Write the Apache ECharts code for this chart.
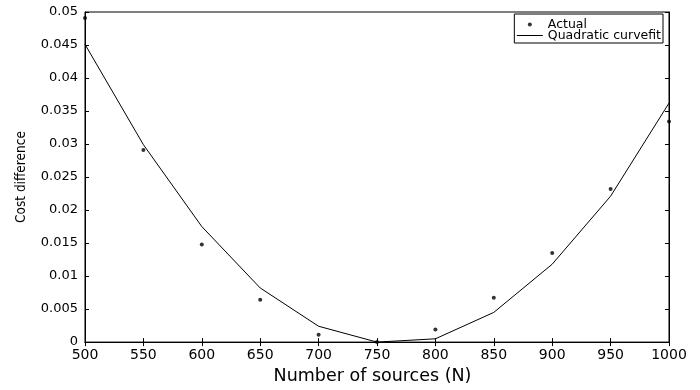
<!DOCTYPE html>
<html>
<head>
<meta charset="utf-8">
<script src="https://cdn.jsdelivr.net/npm/echarts@6/dist/echarts.min.js"></script>
<style>
  html, body { margin: 0; padding: 0; background: #fff; }
  #chart { width: 700px; height: 390px; }
</style>
</head>
<body>
<div id="chart"></div>
<script>
// Number of sources on the x axis
const sources = [500, 550, 600, 650, 700, 750, 800, 850, 900, 950, 1000];
// Measured cost difference for each source count
const actual = [0.0491, 0.0291, 0.0148, 0.0064, 0.0011, 0.0000, 0.0019, 0.0067, 0.0135, 0.0232, 0.0334];
// Quadratic curve fitted through the measurements
const quadraticFit = [0.0451, 0.0299, 0.0175, 0.0082, 0.0024, 0.0000, 0.0005, 0.0045, 0.0118, 0.0221, 0.0362];

const actualPoints = sources.map((n, i) => [n, actual[i]]);
const fitPoints = sources.map((n, i) => [n, quadraticFit[i]]);

const labelFont = 'DejaVu Sans';

const chart = echarts.init(document.getElementById('chart'), null, { renderer: 'canvas' });

const xBase = { type: 'value', min: 500, max: 1000, interval: 50 };
const yBase = { type: 'value', min: 0, max: 0.05, interval: 0.005 };

chart.setOption({
  animation: false,
  backgroundColor: '#fff',
  grid: {
    left: 85, right: 31, top: 12, bottom: 36,
    show: true, borderColor: '#000', borderWidth: 1, backgroundColor: 'transparent'
  },
  legend: {
    orient: 'vertical',
    right: 37,
    top: 14,
    padding: [4, 2, 1, 2],
    itemGap: -2,
    itemWidth: 26,
    itemHeight: 4,
    borderColor: '#000',
    borderWidth: 1,
    borderRadius: 0,
    backgroundColor: '#fff',
    textStyle: { fontFamily: labelFont, fontSize: 12.5, color: '#000' },
    data: [
      { name: 'Actual', icon: 'circle' },
      { name: 'Quadratic curvefit', itemStyle: { opacity: 0 }, lineStyle: { width: 1, color: '#000' } }
    ]
  },
  xAxis: [
    Object.assign({}, xBase, {
      position: 'bottom',
      name: 'Number of sources (N)',
      nameLocation: 'middle',
      nameGap: 20,
      nameTextStyle: { fontFamily: labelFont, fontSize: 17.5, color: '#000', padding: [0, 9, 0, 0] },
      axisLine: { show: true, onZero: false, lineStyle: { color: '#000', width: 1 } },
      axisTick: { show: true, inside: true, length: 4, lineStyle: { color: '#000' } },
      axisLabel: {
        show: true, margin: 6, fontFamily: labelFont, fontSize: 14, color: '#000',
        formatter: (v) => String(v)
      },
      splitLine: { show: false }
    }),
    Object.assign({}, xBase, {
      position: 'top',
      axisLine: { show: true, lineStyle: { color: '#000', width: 1 } },
      axisTick: { show: true, inside: true, length: 4, lineStyle: { color: '#000' } },
      axisLabel: { show: false },
      splitLine: { show: false }
    })
  ],
  yAxis: [
    Object.assign({}, yBase, {
      position: 'left',
      name: 'Cost difference',
      nameLocation: 'middle',
      nameGap: 57,
      nameTextStyle: { fontFamily: 'Liberation Sans Narrow, DejaVu Sans Condensed', fontSize: 13.5, color: '#000' },
      axisLine: { show: true, onZero: false, lineStyle: { color: '#000', width: 1 } },
      axisTick: { show: true, inside: true, length: 4, lineStyle: { color: '#000' } },
      axisLabel: { show: true, margin: 7, fontFamily: labelFont, fontSize: 13, color: '#000' },
      splitLine: { show: false }
    }),
    Object.assign({}, yBase, {
      position: 'right',
      axisLine: { show: true, lineStyle: { color: '#000', width: 1 } },
      axisTick: { show: true, inside: true, length: 4, lineStyle: { color: '#000' } },
      axisLabel: { show: false },
      splitLine: { show: false }
    })
  ],
  series: [
    {
      name: 'Actual',
      type: 'scatter',
      xAxisIndex: 0,
      yAxisIndex: 0,
      symbol: 'circle',
      symbolSize: 4,
      itemStyle: { color: '#000' },
      clip: false,
      data: actualPoints,
      z: 3
    },
    {
      name: 'Quadratic curvefit',
      type: 'line',
      xAxisIndex: 0,
      yAxisIndex: 0,
      symbol: 'none',
      lineStyle: { color: '#000', width: 1 },
      itemStyle: { color: '#000' },
      data: fitPoints,
      z: 2
    }
  ]
});
</script>
</body>
</html>
